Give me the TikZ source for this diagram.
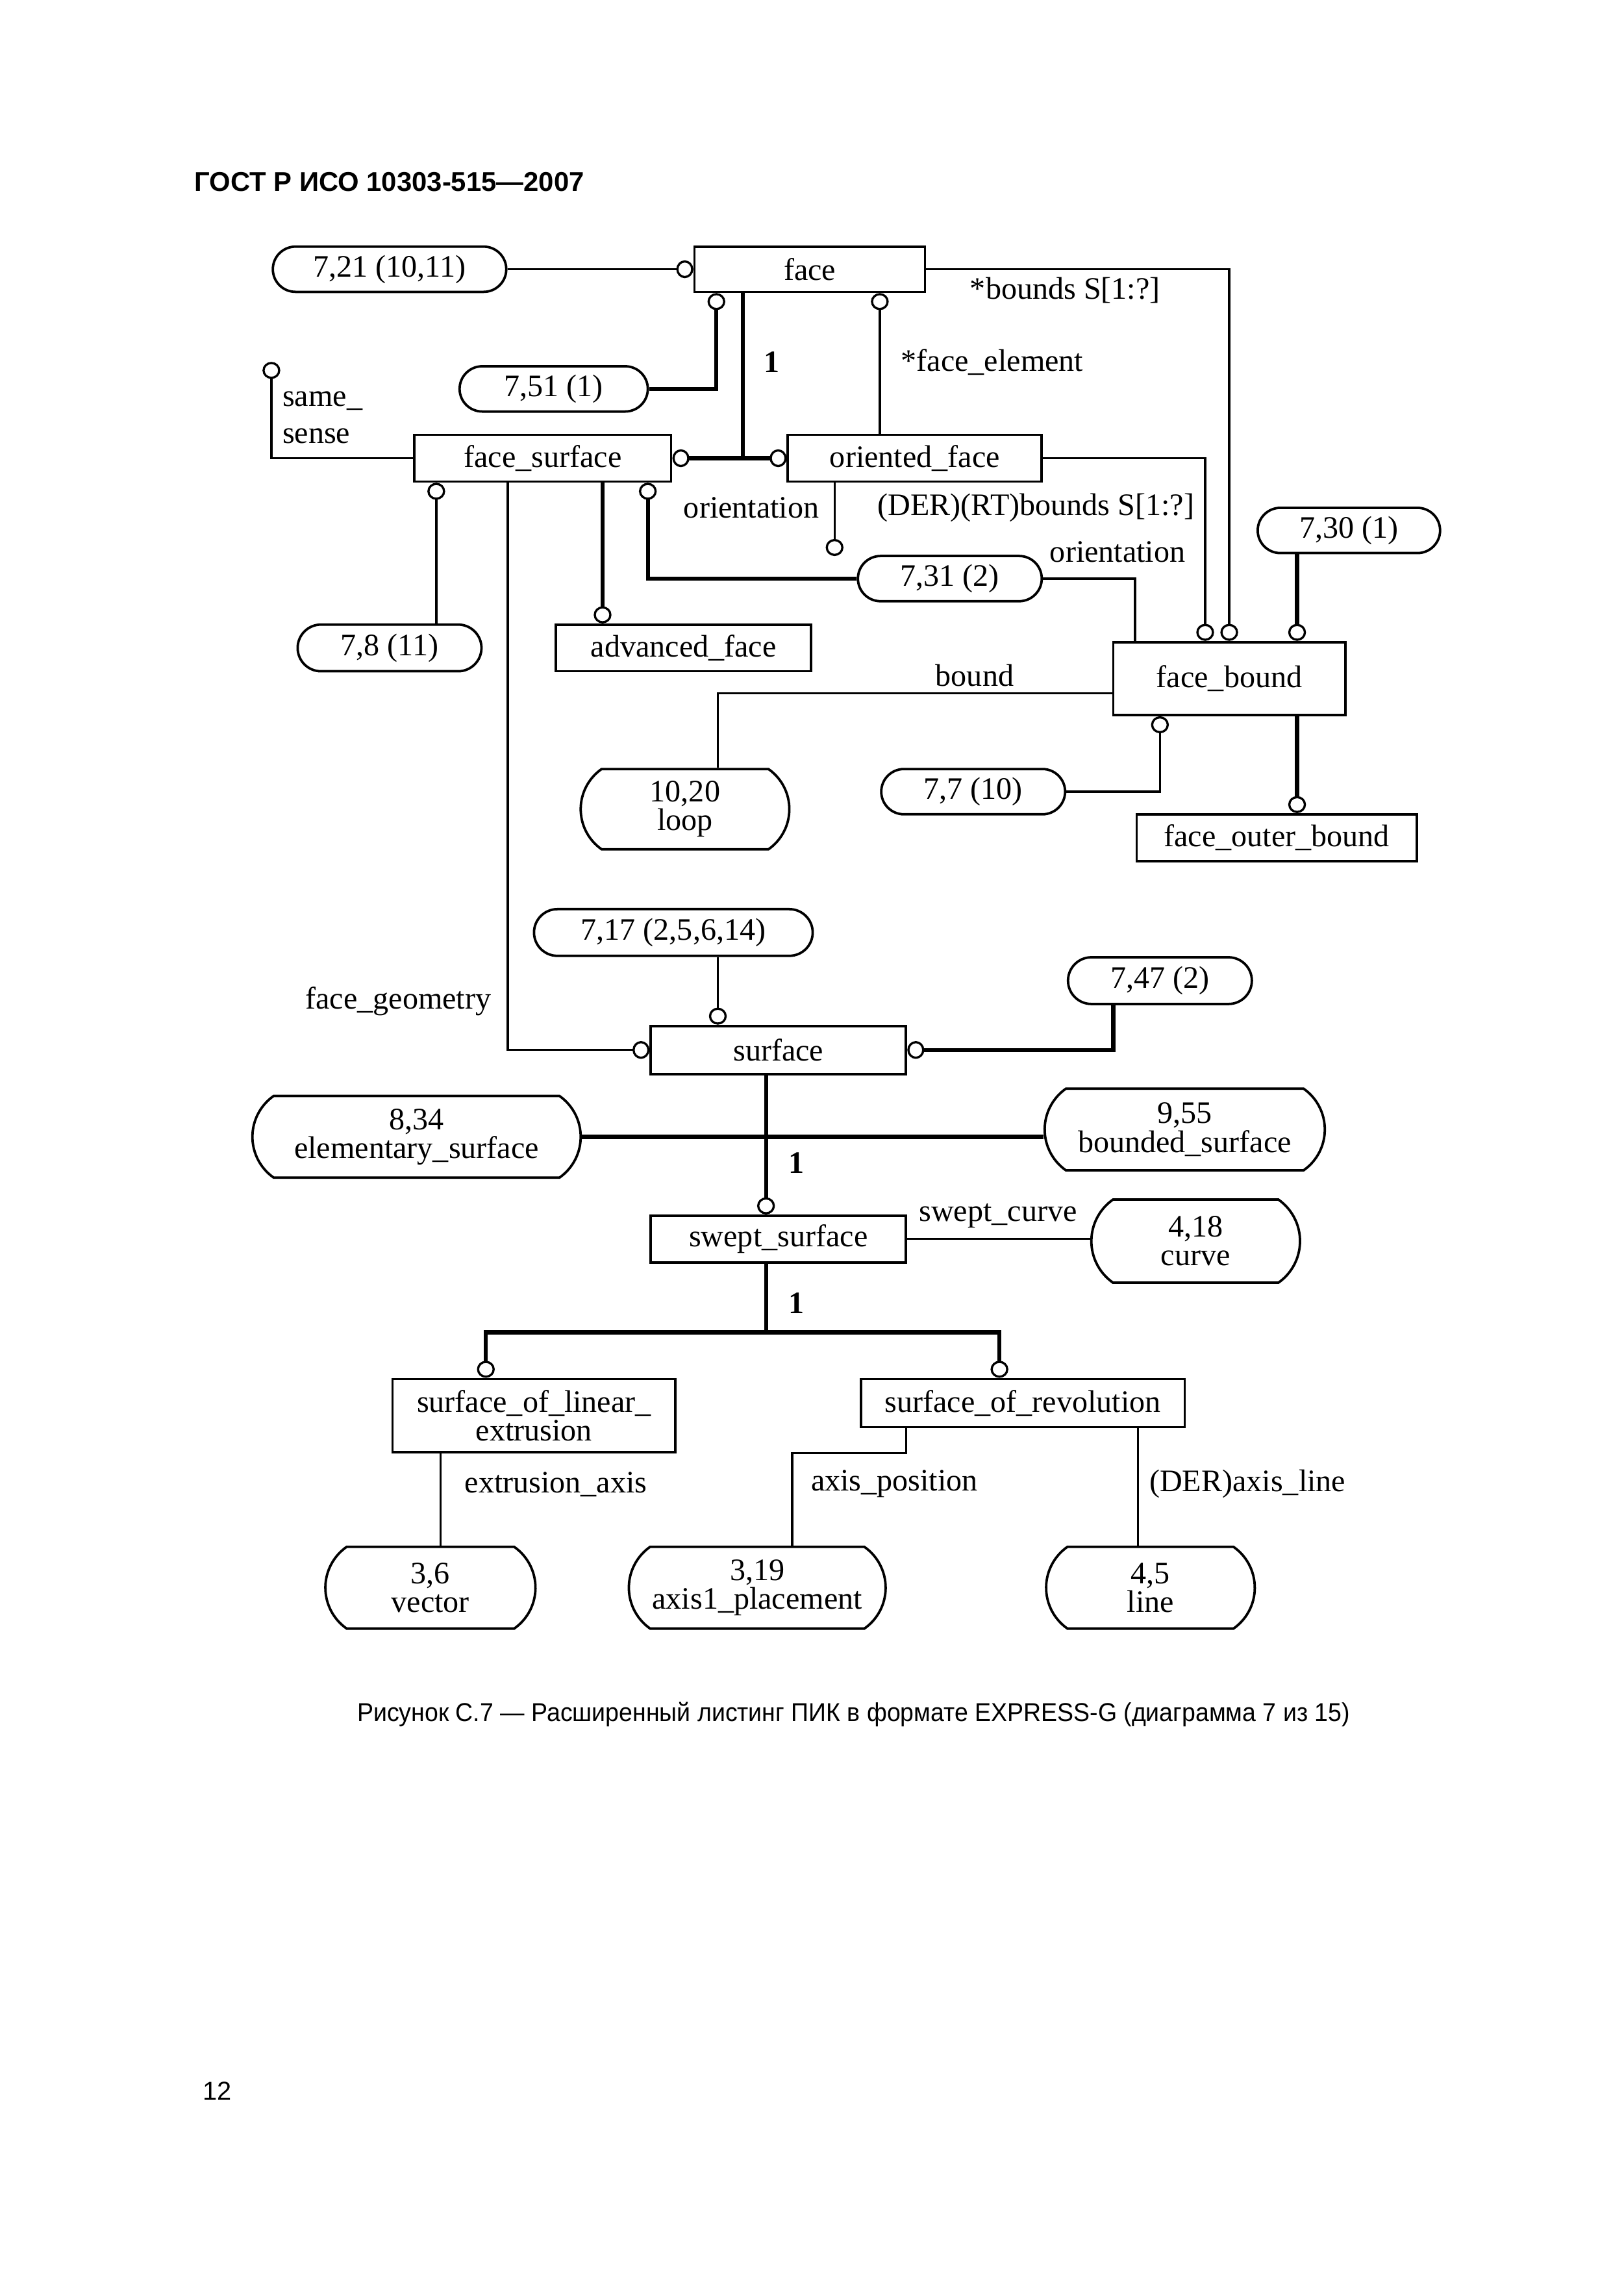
\documentclass[tikz,border=0pt]{standalone}
\usepackage{graphicx}
\usepackage{fontspec}
\setmainfont{Liberation Serif}
\newfontfamily\headfont{Liberation Sans}
\usetikzlibrary{arrows.meta,shapes.misc}
\newcommand{\pxu}{0.0188679cm}
\begin{document}
\begin{tikzpicture}[x=\pxu, y=-\pxu,
                every node/.style = {font=\fontsize{11.5}{10.6}\selectfont, inner sep=0pt},
                entity/.style 2 args = {draw, line width=0.9pt, minimum width=#1*\pxu, minimum height=#2*\pxu, align=center},
                refbox/.style 2 args = {draw, line width=0.9pt, rounded rectangle, minimum width=#1*\pxu, minimum height=#2*\pxu, align=center},
                tall/.style = {rounded rectangle arc length=110},
                lbl/.style = {align=left},
                rel/.style = {line width=0.8pt},
                sub/.style = {line width=1.5pt},
                ring/.tip = {Circle[open, length=2.2mm, width=2.3mm, line width=0.8pt]}
            ]
            \useasboundingbox (0,0) rectangle (1113,1567.9);
            % header, caption, page number
            \node[anchor=west, font=\headfont\bfseries\fontsize{10}{12}\selectfont] (head) at (133,124.5) {ГОСТ Р ИСО 10303-515—2007};
            \node[font=\headfont\fontsize{9.5}{11}\selectfont] (cap) at (585,1175) {\scalebox{0.943}[1]{Рисунок С.7 — Расширенный листинг ПИК в формате EXPRESS-G (диаграмма 7 из 15)}};
            \node[font=\headfont\fontsize{9.5}{11}\selectfont] (pnum) at (149,1433) {12};
            % face part
            \node[entity={158}{31}] (face) at (555,184.5) {face};
            \node[refbox={160}{31}] (r721) at (267,184.5) {7,21 (10,11)};
            \node[refbox={129}{31}] (r751) at (379.5,266.5) {7,51 (1)};
            \node[entity={176}{32}] (fsurf) at (372,314) {face\_surface};
            \node[entity={174}{32}] (oface) at (627,314) {oriented\_face};
            \node[refbox={126}{32}] (r78) at (267,444) {7,8 (11)};
            \node[entity={175}{32}] (advf) at (468.5,444) {advanced\_face};
            \node[refbox={126}{31}] (r731) at (651,396.5) {7,31 (2)};
            \node[refbox={125}{31}] (r730) at (924.5,363.5) {7,30 (1)};
            \node[entity={159}{50}] (fbound) at (842.5,465) {face\_bound};
            \node[refbox={143}{55}, tall] (loop) at (469.5,554.5) {10,20\\loop};
            \node[refbox={126}{31}] (r77) at (667,542.5) {7,7 (10)};
            \node[entity={192}{32}] (fobound) at (875,574) {face\_outer\_bound};
            % surface part
            \node[refbox={191}{32}] (r717) at (461.5,639) {7,17 (2,5,6,14)};
            \node[entity={175}{33}] (surf) at (533.5,719.5) {surface};
            \node[refbox={126}{32}] (r747) at (795,672) {7,47 (2)};
            \node[refbox={225}{56}, tall] (elem) at (285.5,779) {8,34\\elementary\_surface};
            \node[refbox={192}{56}, tall] (bsurf) at (812,774) {9,55\\bounded\_surface};
            \node[entity={175}{32}] (swept) at (533.5,849) {swept\_surface};
            \node[refbox={143}{57}, tall] (curve) at (819.5,850.5) {4,18\\curve};
            \node[entity={194}{50}] (solin) at (366,970) {surface\_of\_linear\_\\extrusion};
            \node[entity={222}{33}] (sorev) at (701,961.5) {surface\_of\_revolution};
            \node[refbox={144}{56}, tall] (vect) at (295,1088) {3,6\\vector};
            \node[refbox={176}{56}, tall] (axis) at (519,1088) {3,19\\axis1\_placement};
            \node[refbox={143}{56}, tall] (lin) at (788.5,1088) {4,5\\line};
            % attribute labels
            \node (lbounds) at (730,199) {*bounds S[1:?]};
            \node (lone1) at (529,248) {\textbf{1}};
            \node (lfelem) at (680,248) {*face\_element};
            \node[lbl, font=\fontsize{11.5}{13.6}\selectfont] (lsense) at (221,286) {same\_\\sense};
            \node (lorient1) at (515,348) {orientation};
            \node (lderb) at (710,348) {(DER)(RT)bounds S[1:?]};
            \node (lorient2) at (766,378) {orientation};
            \node (lbound) at (668,463) {bound};
            \node (lgeom) at (273,686) {face\_geometry};
            \node (lone2) at (546,797) {\textbf{1}};
            \node (lcurve) at (684,833) {swept\_curve};
            \node (lone3) at (546,893) {\textbf{1}};
            \node (lext) at (381,1017) {extrusion\_axis};
            \node (lpos) at (613,1017) {axis\_position};
            \node (laxl) at (855,1017) {(DER)axis\_line};
            % free ends and joints
            \coordinate (ssense) at (186,248);
            \coordinate (fjoin) at (509,314);
            \coordinate (orient) at (572,381);
            \coordinate (sjoin) at (525,913);
            % connectors
            \draw[rel, -ring] (r721.east) -- (face.west);
            \draw[rel, -ring] (face.east) -| (fbound.north);
            \draw[sub, ring-] ([shift={(-64,0)}]face.south) |- (r751.east);
            \draw[sub] ([shift={(-46,0)}]face.south) -- (fjoin);
            \draw[sub, ring-ring] (fsurf.east) -- (oface.west);
            \draw[rel, ring-] ([shift={(48,0)}]face.south) -- ([shift={(-24,0)}]oface.north);
            \draw[rel, ring-] (ssense) |- (fsurf.west);
            \draw[rel, ring-] ([shift={(-73,0)}]fsurf.south) -- ([shift={(32,0)}]r78.north);
            \draw[rel, -ring] ([shift={(-24,0)}]fsurf.south) |- (surf.west);
            \draw[sub, -ring] ([shift={(41,0)}]fsurf.south) -- ([shift={(-55.5,0)}]advf.north);
            \draw[sub, ring-] ([shift={(72,0)}]fsurf.south) |- (r731.west);
            \draw[rel, -ring] ([shift={(-55,0)}]oface.south) -- (orient);
            \draw[rel, -ring] (oface.east) -| ([shift={(-16.5,0)}]fbound.north);
            \draw[rel] (r731.east) -| ([shift={(-64.5,0)}]fbound.north);
            \draw[sub, -ring] ([shift={(-35.5,0)}]r730.south) -- ([shift={(46.5,0)}]fbound.north);
            \draw[rel] ([shift={(0,10)}]fbound.west) -| ([shift={(22.5,0)}]loop.north);
            \draw[rel, ring-] ([shift={(-47.5,0)}]fbound.south) |- (r77.east);
            \draw[sub, -ring] ([shift={(46.5,0)}]fbound.south) -- ([shift={(14,0)}]fobound.north);
            \draw[rel, -ring] ([shift={(30.5,0)}]r717.south) -- ([shift={(-41.5,0)}]surf.north);
            \draw[sub, ring-] (surf.east) -| ([shift={(-32,0)}]r747.south);
            \draw[sub, -ring] ([shift={(-8.5,0)}]surf.south) -- ([shift={(-8.5,0)}]swept.north);
            \draw[sub] (elem.east) -- (elem.east -| bsurf.west);
            \draw[rel] (swept.east) -- (swept.east -| curve.west);
            \draw[sub] ([shift={(-8.5,0)}]swept.south) -- (sjoin);
            \draw[sub, -ring] (sjoin) -| ([shift={(-33,0)}]solin.north);
            \draw[sub, -ring] (sjoin) -| ([shift={(-16,0)}]sorev.north);
            \draw[rel] ([shift={(-64,0)}]solin.south) -- ([shift={(7,0)}]vect.north);
            \draw[rel] ([shift={(-80,0)}]sorev.south) -- ++(0,17) -| ([shift={(24,0)}]axis.north);
            \draw[rel] ([shift={(79,0)}]sorev.south) -- ([shift={(-8.5,0)}]lin.north);
\end{tikzpicture}
\end{document}
